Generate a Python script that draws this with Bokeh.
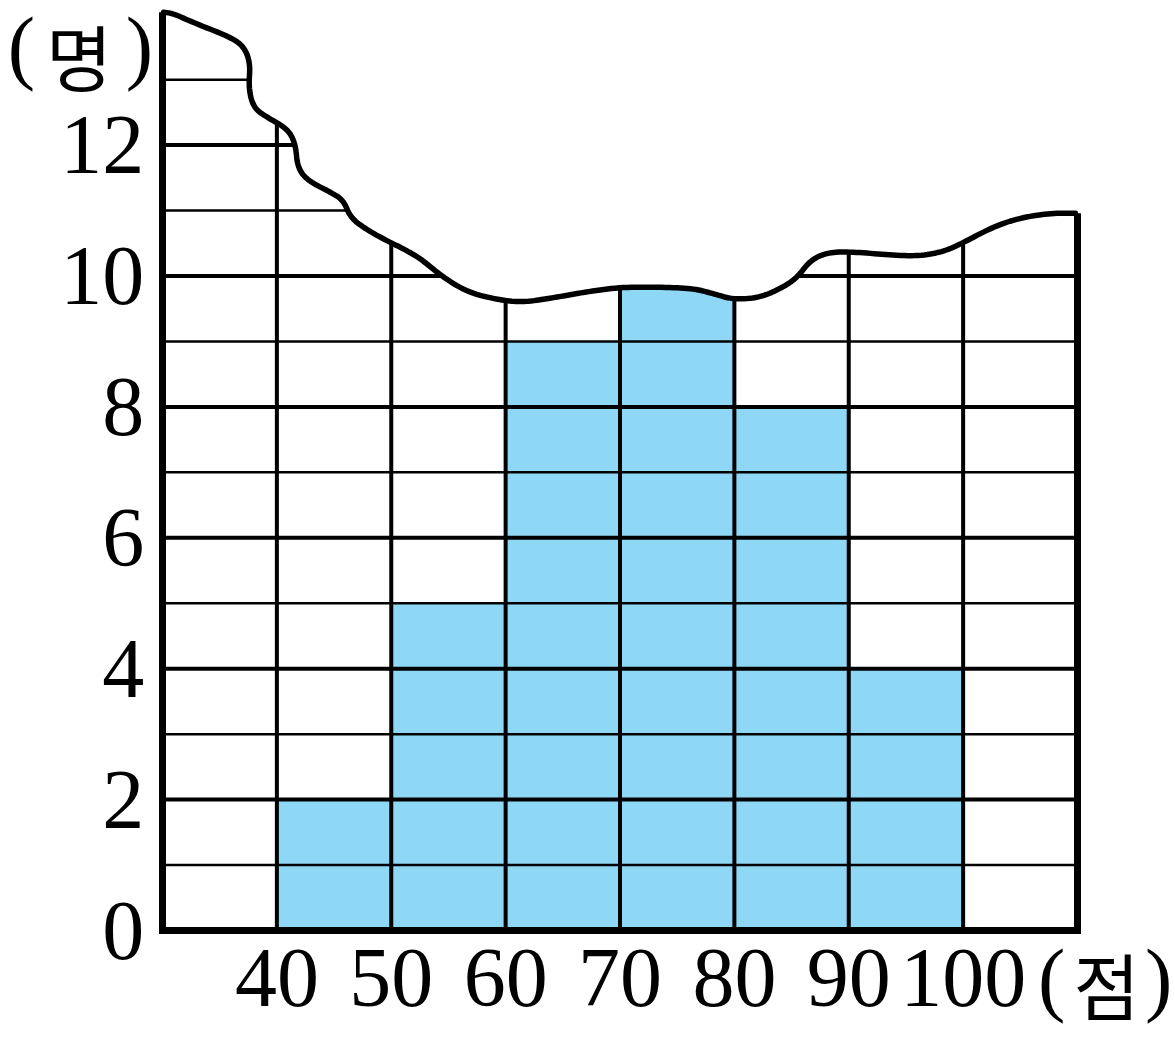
import numpy as np
from bokeh.plotting import figure
from bokeh.models import Range1d
from bokeh.core.properties import value
from bokeh.embed import file_html
from bokeh.resources import INLINE

# ---- data ----
bin_left = [40, 50, 60, 70, 80, 90]
bin_right = [50, 60, 70, 80, 90, 100]
counts = [2, 5, 9, 10, 8, 4]          # 70-80 bar is hidden by the torn edge
x_ticks = [40, 50, 60, 70, 80, 90, 100]
x_tick_labels = ["40", "50", "60", "70", "80", "90", "100"]
y_ticks = [0, 2, 4, 6, 8, 10, 12]
y_tick_labels = ["0", "2", "4", "6", "8", "10", "12"]
x_unit = "점"
y_unit = "명"
x_min, x_max = 30, 110
y_top = 14
# torn (break) edge of the chart
break_x = [30.09, 30.96, 32.71, 35.68, 37.08, 37.69, 37.52, 37.95, 39.18, 40.93,
           41.63, 41.80, 42.67, 44.69, 45.82, 46.43, 47.92, 49.93, 50.80, 52.55,
           54.30, 56.66, 59.55, 61.56, 63.92, 67.15, 70.03, 73.53, 76.42, 78.16,
           79.91, 82.27, 84.28, 85.51, 86.64, 88.13, 90.14, 93.03, 96.00, 98.27,
           100.02, 102.38, 104.74, 107.62, 109.81]
break_y = [14.03, 14.01, 13.87, 13.67, 13.52, 13.25, 12.88, 12.57, 12.42, 12.25,
           12.02, 11.66, 11.46, 11.28, 11.16, 10.89, 10.70, 10.51, 10.44, 10.27,
           10.01, 9.75, 9.63, 9.60, 9.66, 9.76, 9.83, 9.83, 9.81, 9.73,
           9.64, 9.67, 9.83, 9.98, 10.24, 10.36, 10.37, 10.33, 10.30, 10.37,
           10.51, 10.73, 10.88, 10.96, 10.96]


def smooth(xs, ys, steps=10):
    """Round the corners of the hand-drawn edge (quadratic midpoint curves)."""
    P = np.column_stack([xs, ys])
    out = [P[0]]
    for i in range(1, len(P) - 1):
        a = (P[i - 1] + P[i]) / 2
        b = (P[i] + P[i + 1]) / 2
        for t in np.linspace(0, 1, steps):
            out.append((1 - t) ** 2 * a + 2 * (1 - t) * t * P[i] + t ** 2 * b)
    out.append(P[-1])
    out = np.array(out)
    return out[:, 0].tolist(), out[:, 1].tolist()


BAR = "#8ED8F6"
SERIF = value("Liberation Serif")
KOR = value("Noto Sans CJK KR")
FS = "84px"

W, H = 1172, 1035
PX_X = 915 / (x_max - x_min)     # pixels per x unit
PX_Y = 65.45                     # pixels per y unit
x0 = x_min - 162 / PX_X
y0 = -(H - 930) / PX_Y
p = figure(width=W, height=H, output_backend="svg", toolbar_location=None,
           x_range=Range1d(x0, x0 + W / PX_X),
           y_range=Range1d(y0, y0 + H / PX_Y),
           min_border=0)
p.axis.visible = False
p.grid.visible = False
p.outline_line_color = None

# bars
p.quad(left=bin_left, right=bin_right, bottom=0, top=counts,
       fill_color=BAR, line_color=None)

# horizontal grid
for yv in range(1, y_top):
    p.line([x_min, x_max], [yv, yv], line_color="black",
           line_width=4 if yv % 2 == 0 else 2.5)
# vertical grid
for xv in x_ticks:
    p.line([xv, xv], [0, y_top], line_color="black", line_width=4)

# white cover above the torn edge
ex, ey = smooth(break_x, break_y)
cover_x = [x_min - 0.5] + ex + [x_max + 0.5, x_max + 0.5, x_min - 0.5]
cover_y = [ey[0]] + ey + [ey[-1], y_top + 1, y_top + 1]
p.patch(cover_x, cover_y, fill_color="white", line_color=None)

# torn edge line
p.line(ex, ey, line_color="black", line_width=5.5, line_cap="round",
       line_join="round")

# frame (left axis, bottom axis, right edge)
p.line([x_min, x_min, x_max, x_max], [break_y[0], 0, 0, break_y[-1]],
       line_color="black", line_width=7, line_join="miter")

# tick labels
p.text(x=[x_min - 1.6] * len(y_ticks), y=y_ticks, text=y_tick_labels,
       text_font=SERIF, text_font_size=FS, text_align="right",
       text_baseline="middle", text_color="black")
p.text(x=x_ticks, y=[-0.73] * len(x_ticks), text=x_tick_labels,
       text_font=SERIF, text_font_size=FS, text_align="center",
       text_baseline="middle", text_color="black")

# unit labels: ( 명 ) at top-left, ( 점 ) after the last tick
def unit(xc, yc, yk, dx_open, dx_close, word):
    p.text(x=[xc + dx_open, xc + dx_close], y=[yc, yc],
           text=["(", ")"], text_font=SERIF, text_font_size="82px",
           text_align="center", text_baseline="middle", text_color="black")
    p.text(x=[xc], y=[yk], text=[word], text_font=KOR,
           text_font_size="72px", text_align="center",
           text_baseline="middle", text_color="black")

unit(22.70, 13.50, 13.38, -5.03, 5.29, y_unit)
unit(112.54, -0.74, -0.79, -4.81, 4.55, x_unit)

open("out.html", "w").write(file_html(p, INLINE))
